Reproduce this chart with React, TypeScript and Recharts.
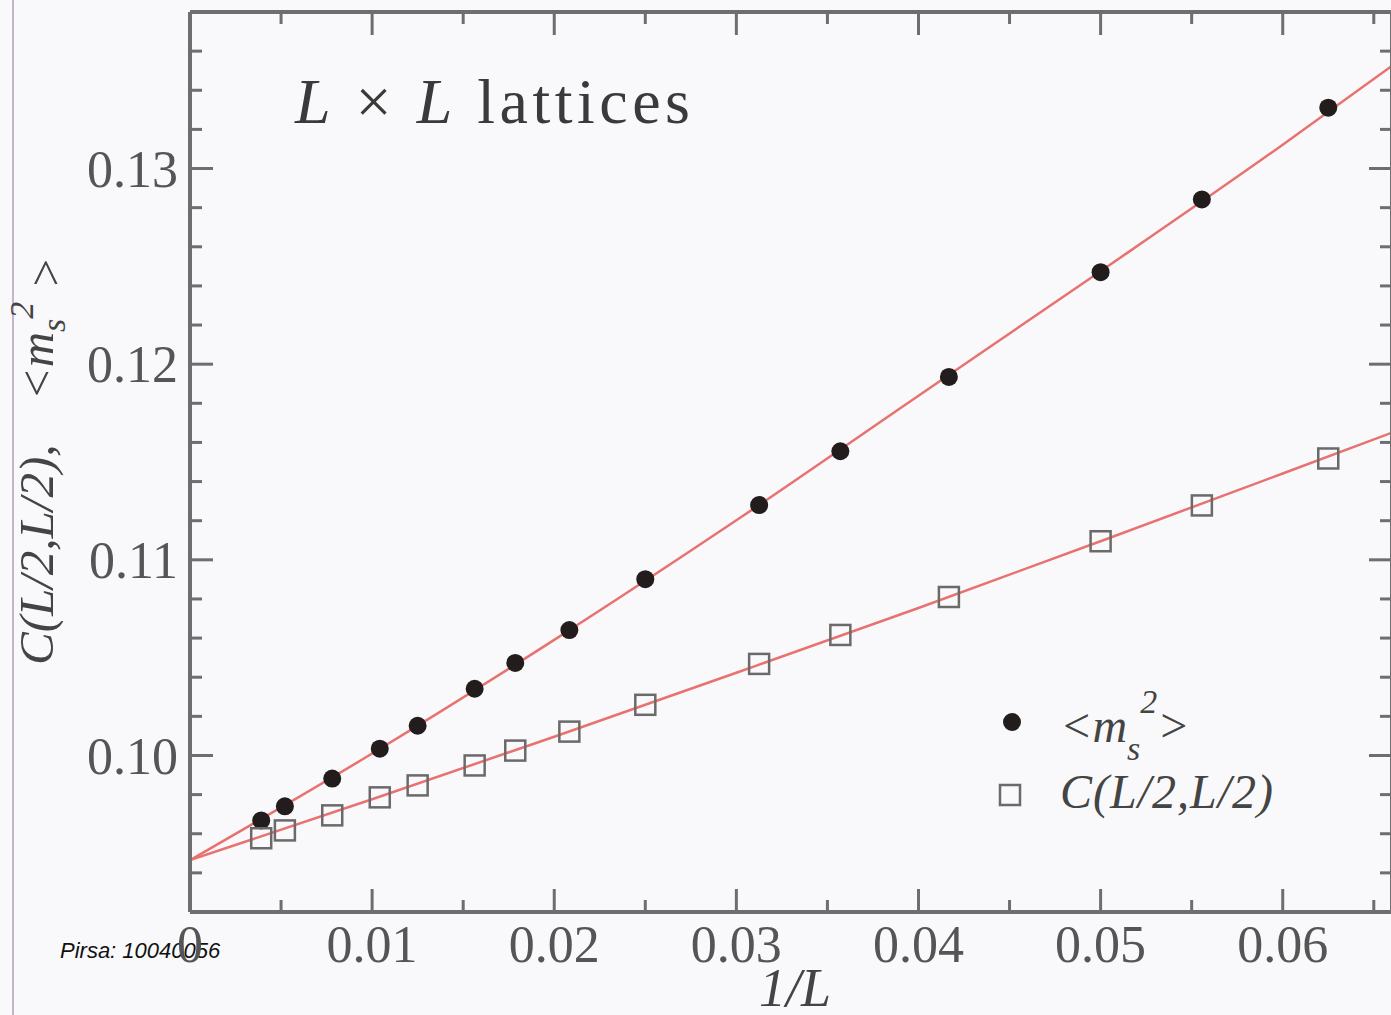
import {
  ComposedChart,
  Line,
  Scatter,
  XAxis,
  YAxis,
  Customized,
} from "recharts";

// 1/L for L = 256, 192, 128, 96, 80, 64, 56, 48, 40, 32, 28, 24, 20, 18, 16
const invL = [
  0.00391, 0.00521, 0.00781, 0.01042, 0.0125, 0.01563, 0.01786, 0.02083,
  0.025, 0.03125, 0.03571, 0.04167, 0.05, 0.05556, 0.0625,
];
const ms2 = [
  0.09668, 0.0974, 0.09882, 0.10035, 0.10152, 0.10341, 0.10473, 0.10641,
  0.10901, 0.1128, 0.11555, 0.11935, 0.1247, 0.12842, 0.13311,
];
const cHalf = [
  0.09577, 0.09617, 0.09694, 0.09786, 0.09847, 0.09949, 0.10025, 0.10122,
  0.10259, 0.10468, 0.10616, 0.1081, 0.11095, 0.11278, 0.11518,
];

// fitted curves
const fitX = [0, 0.01, 0.02, 0.03, 0.04, 0.05, 0.06, 0.066];
const ms2Fit = [0.09465, 0.1001, 0.10591, 0.11202, 0.11839, 0.12475, 0.13122, 0.13525];
const cHalfFit = [0.09465, 0.09776, 0.10096, 0.10423, 0.10754, 0.11095, 0.11441, 0.1165];

const xTicks = [
  0, 0.005, 0.01, 0.015, 0.02, 0.025, 0.03, 0.035, 0.04, 0.045, 0.05, 0.055,
  0.06, 0.065,
];
const yTicks = [
  0.092, 0.094, 0.096, 0.098, 0.1, 0.102, 0.104, 0.106, 0.108, 0.11, 0.112,
  0.114, 0.116, 0.118, 0.12, 0.122, 0.124, 0.126, 0.128, 0.13, 0.132, 0.134,
  0.136, 0.138,
];

const ms2Data = invL.map((x, i) => ({ x, y: ms2[i] }));
const cHalfData = invL.map((x, i) => ({ x, y: cHalf[i] }));
const ms2FitData = fitX.map((x, i) => ({ x, y: ms2Fit[i] }));
const cHalfFitData = fitX.map((x, i) => ({ x, y: cHalfFit[i] }));

const AXIS = "#6e6e6e";
const LABEL = "#555";
const RED = "#e8726f";
const SERIF = "'Liberation Serif', 'Times New Roman', serif";

const isMajor = (v: number) => Math.abs(v * 100 - Math.round(v * 100)) < 1e-6;

function BottomTick({ x, y, payload }: any) {
  const v = payload.value;
  const major = isMajor(v);
  return (
    <g>
      <line x1={x} x2={x} y1={y} y2={y - (major ? 23 : 12)} stroke={AXIS} strokeWidth={3} />
      {major && (
        <text x={x} y={y + 50} textAnchor="middle" fontFamily={SERIF} fontSize={52} fill={LABEL}>
          {v === 0 ? "0" : v.toFixed(2)}
        </text>
      )}
    </g>
  );
}

function TopTick({ x, y, payload }: any) {
  const major = isMajor(payload.value);
  return <line x1={x} x2={x} y1={y} y2={y + (major ? 23 : 12)} stroke={AXIS} strokeWidth={3} />;
}

function LeftTick({ x, y, payload }: any) {
  const v = payload.value;
  const major = isMajor(v);
  return (
    <g>
      <line x1={x} x2={x + (major ? 23 : 12)} y1={y} y2={y} stroke={AXIS} strokeWidth={3} />
      {major && (
        <text x={x - 12} y={y} dy="0.35em" textAnchor="end" fontFamily={SERIF} fontSize={52} fill={LABEL}>
          {v.toFixed(2)}
        </text>
      )}
    </g>
  );
}

function RightTick({ x, y, payload }: any) {
  const major = isMajor(payload.value);
  return <line x1={x} x2={x - (major ? 23 : 12)} y1={y} y2={y} stroke={AXIS} strokeWidth={3} />;
}

const Dot = (p: any) => <circle cx={p.cx} cy={p.cy} r={9} fill="#221c1c" />;
const Box = (p: any) => (
  <rect x={p.cx - 10} y={p.cy - 10} width={20} height={20} fill="none" stroke="#6a6a6a" strokeWidth={2.5} />
);

function Annotations() {
  return (
    <g fontFamily={SERIF}>
      <line x1={13} x2={13} y1={0} y2={1015} stroke="#c4b4cc" strokeWidth={2} />
      <text x={295} y={123} fontSize={64} fill="#3a3a3a" textLength={395} lengthAdjust="spacing">
        <tspan fontStyle="italic">L</tspan>
        <tspan> × </tspan>
        <tspan fontStyle="italic">L</tspan>
        <tspan> lattices</tspan>
      </text>
      <text
        transform="translate(53,665) rotate(-90)"
        x={0}
        y={0}
        fontSize={49}
        fontStyle="italic"
        fill="#444"
      >
        <tspan>C(L/2,L/2),</tspan>
        <tspan dx="0.9em">&lt;m</tspan>
        <tspan dy="0.35em" fontSize={34}>s</tspan>
        <tspan dy="-0.95em" fontSize={34}>2</tspan>
        <tspan dy="0.6em" dx="0.25em">&gt;</tspan>
      </text>
      <text x={795} y={1006} textAnchor="middle" fontSize={54} fontStyle="italic" fill="#444">
        1/L
      </text>
      {/* legend */}
      <circle cx={1012} cy={722} r={9} fill="#221c1c" />
      <text x={1060} y={742} fontSize={48} fontStyle="italic" fill="#444">
        <tspan>&lt;m</tspan>
        <tspan dy={18} fontSize={34}>s</tspan>
        <tspan dy={-47} fontSize={34}>2</tspan>
        <tspan dy={29}>&gt;</tspan>
      </text>
      <rect x={1000} y={785} width={20} height={20} fill="none" stroke="#6a6a6a" strokeWidth={2.5} />
      <text x={1060} y={808} fontSize={48} fontStyle="italic" fill="#444" textLength={213} lengthAdjust="spacing">
        C(L/2,L/2)
      </text>
      <text
        x={60}
        y={958}
        fontFamily="'Liberation Sans', Arial, sans-serif"
        fontStyle="italic"
        fontSize={22}
        fill="#111"
      >
        Pirsa: 10040056
      </text>
    </g>
  );
}

export default function App() {
  return (
    <div
      style={{
        position: "absolute",
        left: 0,
        top: 0,
        width: 1391,
        height: 1015,
        overflow: "hidden",
        background: "#f9f9fb",
      }}
    >
      <ComposedChart width={1400} height={1015} margin={{ top: 0, right: 0, bottom: 0, left: 0 }}>
        <XAxis
          xAxisId="b"
          dataKey="x"
          type="number"
          domain={[0, 0.066]}
          allowDataOverflow
          ticks={xTicks}
          interval={0}
          height={103}
          tickSize={0}
          tickMargin={0}
          tickLine={false}
          tick={<BottomTick />}
          axisLine={{ stroke: AXIS, strokeWidth: 4 }}
        />
        <XAxis
          xAxisId="t"
          orientation="top"
          dataKey="x"
          type="number"
          domain={[0, 0.066]}
          allowDataOverflow
          ticks={xTicks}
          interval={0}
          height={12}
          tickSize={0}
          tickMargin={0}
          tickLine={false}
          tick={<TopTick />}
          axisLine={{ stroke: AXIS, strokeWidth: 4 }}
        />
        <YAxis
          yAxisId="l"
          type="number"
          domain={[0.092, 0.138]}
          allowDataOverflow
          ticks={yTicks}
          interval={0}
          width={190}
          tickSize={0}
          tickMargin={0}
          tickLine={false}
          tick={<LeftTick />}
          axisLine={{ stroke: AXIS, strokeWidth: 4 }}
        />
        <YAxis
          yAxisId="r"
          orientation="right"
          type="number"
          domain={[0.092, 0.138]}
          allowDataOverflow
          ticks={yTicks}
          interval={0}
          width={8}
          tickSize={0}
          tickMargin={0}
          tickLine={false}
          tick={<RightTick />}
          axisLine={{ stroke: AXIS, strokeWidth: 4 }}
        />
        <Scatter xAxisId="b" yAxisId="l" data={ms2Data} dataKey="y" shape={Dot} isAnimationActive={false} />
        <Scatter xAxisId="b" yAxisId="l" data={cHalfData} dataKey="y" shape={Box} isAnimationActive={false} />
        <Line
          xAxisId="b"
          yAxisId="l"
          data={ms2FitData}
          dataKey="y"
          type="monotone"
          stroke={RED}
          strokeWidth={2.5}
          dot={false}
          activeDot={false}
          isAnimationActive={false}
        />
        <Line
          xAxisId="b"
          yAxisId="l"
          data={cHalfFitData}
          dataKey="y"
          type="monotone"
          stroke={RED}
          strokeWidth={2.5}
          dot={false}
          activeDot={false}
          isAnimationActive={false}
        />
        <Customized component={Annotations} />
      </ComposedChart>
    </div>
  );
}
